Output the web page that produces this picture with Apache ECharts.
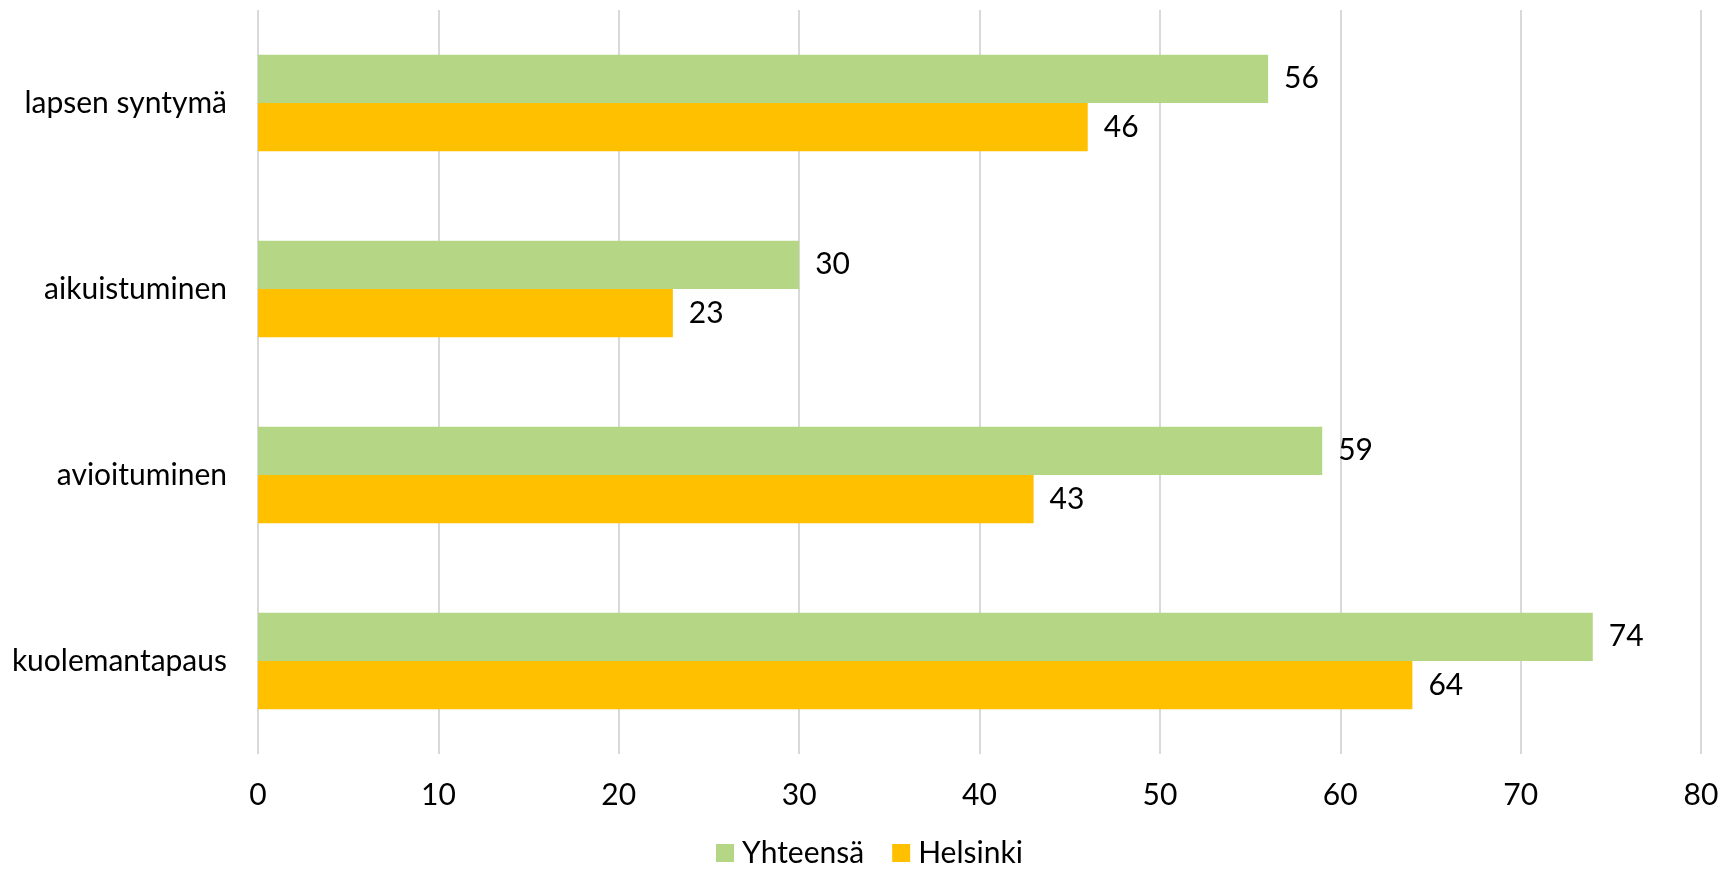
<!DOCTYPE html>
<html>
<head>
<meta charset="utf-8">
<script src="https://cdn.jsdelivr.net/npm/echarts@6/dist/echarts.min.js"></script>
<style>html,body{margin:0;padding:0;background:#fff;}#c{width:1729px;height:872px;}</style>
</head>
<body>
<div id="c"></div>
<script>
const categories = ["lapsen syntymä", "aikuistuminen", "avioituminen", "kuolemantapaus"];
const yhteensa = [56, 30, 59, 74];
const helsinki = [46, 23, 43, 64];
const seriesNames = ["Yhteensä", "Helsinki"];

const FONT = "Lato";
const FS = 30;
const chart = echarts.init(document.getElementById('c'));
chart.setOption({
  animation: false,
  textStyle: { fontFamily: FONT },
  grid: { left: 258, right: 28, top: 10, bottom: 118, containLabel: false },
  legend: {
    data: seriesNames,
    left: 716,
    top: 838,
    padding: 0,
    itemWidth: 18, itemHeight: 18, itemGap: 28,
    icon: 'rect',
    textStyle: { fontFamily: FONT, fontSize: FS, color: '#000', padding: [0, 0, 0, 3] }
  },
  xAxis: {
    type: 'value', min: 0, max: 80, interval: 10,
    axisLine: { show: false }, axisTick: { show: false },
    splitLine: { lineStyle: { color: '#d9d9d9', width: 2 } },
    axisLabel: { fontFamily: FONT, fontSize: FS, color: '#000', margin: 26 }
  },
  yAxis: {
    type: 'category', data: categories, inverse: true,
    axisLine: { show: false }, axisTick: { show: false },
    axisLabel: { fontFamily: FONT, fontSize: FS, color: '#000', margin: 31 }
  },
  series: [
    {
      name: seriesNames[0], type: 'bar', data: yhteensa, barGap: '0%', barCategoryGap: '48%',
      itemStyle: { color: '#b5d785' },
      label: { show: true, position: 'right', distance: 16, fontFamily: FONT, fontSize: FS, color: '#000' }
    },
    {
      name: seriesNames[1], type: 'bar', data: helsinki, barGap: '0%', barCategoryGap: '48%',
      itemStyle: { color: '#ffc000' },
      label: { show: true, position: 'right', distance: 16, fontFamily: FONT, fontSize: FS, color: '#000' }
    }
  ]
});
</script>
</body>
</html>
